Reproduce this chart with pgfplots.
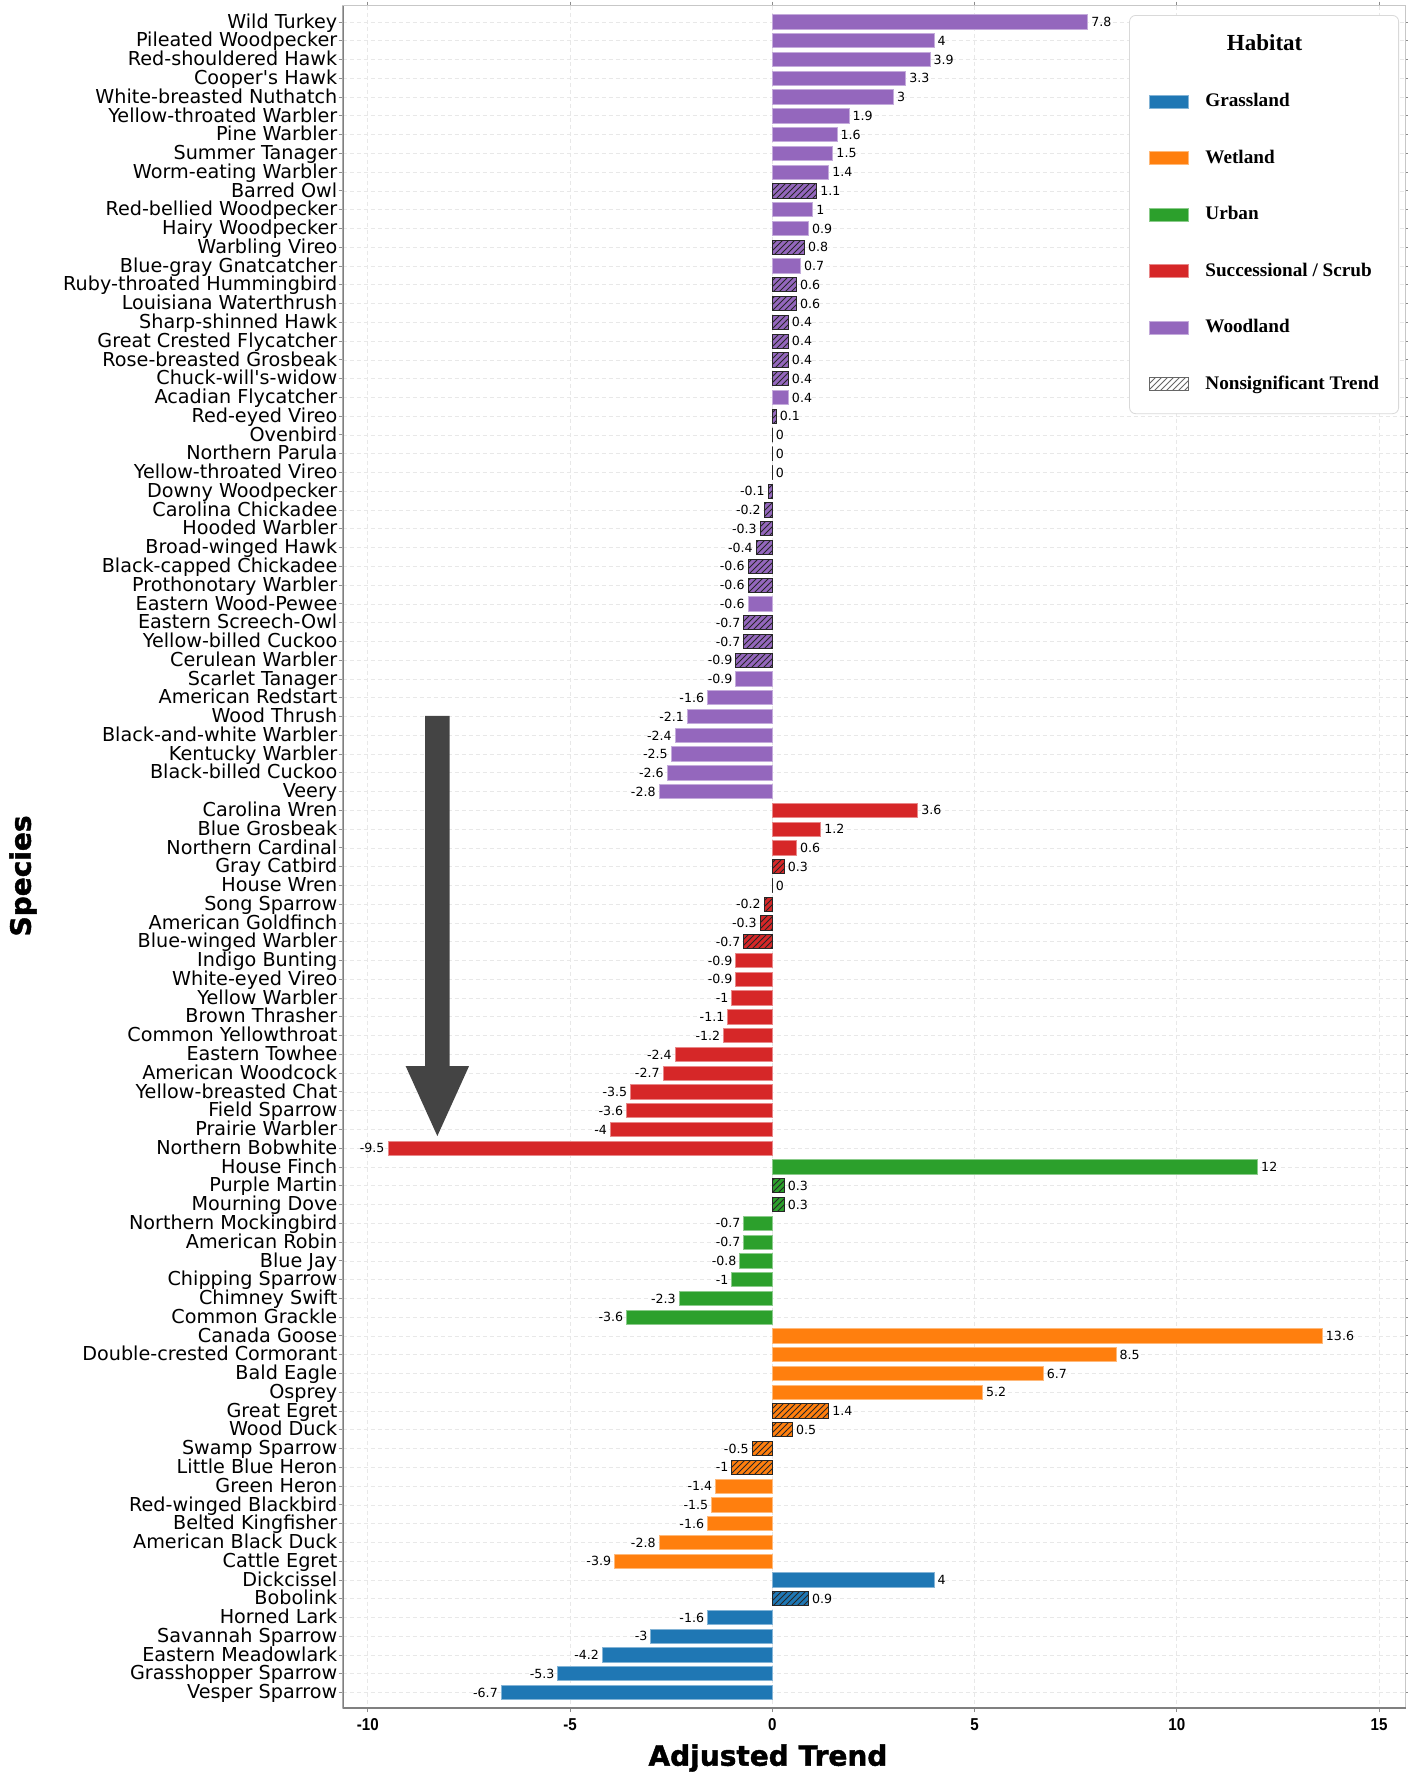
\documentclass[border=0pt]{standalone}
\usepackage{fontspec}
\usepackage{pgfplots}
\pgfplotsset{compat=1.18}
\usetikzlibrary{patterns}
\newfontfamily\dvs{DejaVu Sans}
\newfontfamily\heavy{DejaVu Sans}[BoldFeatures={FakeBold=1.5}]
\newfontfamily\lsans{Liberation Sans}[FakeStretch=0.88]
\newfontfamily\tnr{Liberation Serif}
\definecolor{tabblue}{HTML}{1F77B4}
\definecolor{taborange}{HTML}{FF7F0E}
\definecolor{tabgreen}{HTML}{2CA02C}
\definecolor{tabred}{HTML}{D62728}
\definecolor{tabpurple}{HTML}{9467BD}
\definecolor{arrowgray}{HTML}{444444}
\pgfplotsset{
  valnodes/.style={nodes near coords={\pgfplotspointmeta}, point meta=explicit symbolic,
    every node near coord/.append style={font=\dvs\fontsize{6.3}{7}\selectfont, inner sep=1.5pt, text=black}},
  pos/.style={every node near coord/.append style={anchor=west}},
  neg/.style={every node near coord/.append style={anchor=east}},
  sig/.style={xbar, bar width=0.76, bar shift=0pt, fill=#1, draw=#1!55!white, line width=0.5pt, forget plot, valnodes},
  ns/.style={xbar, bar width=0.76, bar shift=0pt, fill=#1, draw=black!85, line width=0.5pt,
    postaction={pattern=north east lines, pattern color=black!85}, forget plot, valnodes},
  mypatch/.style={legend image code/.code={\draw[sharp corners,line width=0.5pt,##1] (0pt,-3.25pt) rectangle (19.3pt,3.25pt);}},
}
\begin{document}
\begin{tikzpicture}
\begin{axis}[
  at={(0,0)}, anchor=south west,
  scale only axis, width=531.55pt, height=851.15pt,
  xbar, bar shift=0pt, bar width=0.76,
  nodes near coords align=horizontal,
  xmin=-10.62, xmax=15.66, ymin=-0.87, ymax=89.82, y dir=reverse,
  enlargelimits=false,
  xtick={-10,-5,0,5,10,15},
  ytick={0,...,89},
  yticklabels={Wild Turkey,Pileated Woodpecker,Red-shouldered Hawk,Cooper's Hawk,White-breasted Nuthatch,Yellow-throated Warbler,Pine Warbler,Summer Tanager,Worm-eating Warbler,Barred Owl,Red-bellied Woodpecker,Hairy Woodpecker,Warbling Vireo,Blue-gray Gnatcatcher,Ruby-throated Hummingbird,Louisiana Waterthrush,Sharp-shinned Hawk,Great Crested Flycatcher,Rose-breasted Grosbeak,Chuck-will's-widow,Acadian Flycatcher,Red-eyed Vireo,Ovenbird,Northern Parula,Yellow-throated Vireo,Downy Woodpecker,Carolina Chickadee,Hooded Warbler,Broad-winged Hawk,Black-capped Chickadee,Prothonotary Warbler,Eastern Wood-Pewee,Eastern Screech-Owl,Yellow-billed Cuckoo,Cerulean Warbler,Scarlet Tanager,American Redstart,Wood Thrush,Black-and-white Warbler,Kentucky Warbler,Black-billed Cuckoo,Veery,Carolina Wren,Blue Grosbeak,Northern Cardinal,Gray Catbird,House Wren,Song Sparrow,American Goldfinch,Blue-winged Warbler,Indigo Bunting,White-eyed Vireo,Yellow Warbler,Brown Thrasher,Common Yellowthroat,Eastern Towhee,American Woodcock,Yellow-breasted Chat,Field Sparrow,Prairie Warbler,Northern Bobwhite,House Finch,Purple Martin,Mourning Dove,Northern Mockingbird,American Robin,Blue Jay,Chipping Sparrow,Chimney Swift,Common Grackle,Canada Goose,Double-crested Cormorant,Bald Eagle,Osprey,Great Egret,Wood Duck,Swamp Sparrow,Little Blue Heron,Green Heron,Red-winged Blackbird,Belted Kingfisher,American Black Duck,Cattle Egret,Dickcissel,Bobolink,Horned Lark,Savannah Sparrow,Eastern Meadowlark,Grasshopper Sparrow,Vesper Sparrow},
  yticklabel style={font=\dvs\fontsize{9.6}{11}\selectfont, inner sep=0pt, anchor=mid east, xshift=-0.5pt, yshift=-0.9pt},
  xticklabel style={font=\lsans\bfseries\fontsize{8.6}{10}\selectfont, inner sep=0pt, yshift=-3pt},
  /pgf/number format/assume math mode=true,
  tick align=outside, major tick length=2pt,
  tick style={black!45, line width=0.5pt},
  xmajorgrids, ymajorgrids,
  grid style={dash pattern=on 2pt off 1.5pt, black!9, line width=0.4pt},
  axis line style={black!22, line width=0.6pt},
  xlabel={\heavy\bfseries Adjusted Trend},
  ylabel={\heavy\bfseries Species},
  xlabel style={font=\fontsize{14}{16}\selectfont, at={(axis description cs:0.400,-0.0294)}, anchor=center},
  ylabel style={font=\fontsize{14}{16}\selectfont, at={(axis description cs:-0.3007,0.4888)}, anchor=center},
  legend cell align=left,
  legend style={at={(0.9936,0.9945)}, anchor=north east, draw=black!15, rounded corners=3pt, fill=white,
    inner xsep=9.75pt, inner ysep=10.3pt, row sep=19.25pt, column sep=8.35pt,
    font=\tnr\bfseries\fontsize{9.6}{11}\selectfont,
    nodes={inner sep=0pt, text height=7pt, text depth=2pt}},
]
% Woodland
\addplot[sig=tabpurple, pos] coordinates {(7.8,0) [7.8] (4,1) [4] (3.9,2) [3.9] (3.3,3) [3.3] (3,4) [3] (1.9,5) [1.9] (1.6,6) [1.6] (1.5,7) [1.5] (1.4,8) [1.4] (1,10) [1] (0.9,11) [0.9] (0.7,13) [0.7] (0.4,20) [0.4]};
\addplot[sig=tabpurple, neg] coordinates {(-0.6,31) [-0.6] (-0.9,35) [-0.9] (-1.6,36) [-1.6] (-2.1,37) [-2.1] (-2.4,38) [-2.4] (-2.5,39) [-2.5] (-2.6,40) [-2.6] (-2.8,41) [-2.8]};
\addplot[ns=tabpurple, pos] coordinates {(1.1,9) [1.1] (0.8,12) [0.8] (0.6,14) [0.6] (0.6,15) [0.6] (0.4,16) [0.4] (0.4,17) [0.4] (0.4,18) [0.4] (0.4,19) [0.4] (0.1,21) [0.1] (0,22) [0] (0,23) [0] (0,24) [0]};
\addplot[ns=tabpurple, neg] coordinates {(-0.1,25) [-0.1] (-0.2,26) [-0.2] (-0.3,27) [-0.3] (-0.4,28) [-0.4] (-0.6,29) [-0.6] (-0.6,30) [-0.6] (-0.7,32) [-0.7] (-0.7,33) [-0.7] (-0.9,34) [-0.9]};
% Successional / Scrub
\addplot[sig=tabred, pos] coordinates {(3.6,42) [3.6] (1.2,43) [1.2] (0.6,44) [0.6]};
\addplot[sig=tabred, neg] coordinates {(-0.9,50) [-0.9] (-0.9,51) [-0.9] (-1,52) [-1] (-1.1,53) [-1.1] (-1.2,54) [-1.2] (-2.4,55) [-2.4] (-2.7,56) [-2.7] (-3.5,57) [-3.5] (-3.6,58) [-3.6] (-4,59) [-4] (-9.5,60) [-9.5]};
\addplot[ns=tabred, pos] coordinates {(0.3,45) [0.3] (0,46) [0]};
\addplot[ns=tabred, neg] coordinates {(-0.2,47) [-0.2] (-0.3,48) [-0.3] (-0.7,49) [-0.7]};
% Urban
\addplot[sig=tabgreen, pos] coordinates {(12,61) [12]};
\addplot[sig=tabgreen, neg] coordinates {(-0.7,64) [-0.7] (-0.7,65) [-0.7] (-0.8,66) [-0.8] (-1,67) [-1] (-2.3,68) [-2.3] (-3.6,69) [-3.6]};
\addplot[ns=tabgreen, pos] coordinates {(0.3,62) [0.3] (0.3,63) [0.3]};
% Wetland
\addplot[sig=taborange, pos] coordinates {(13.6,70) [13.6] (8.5,71) [8.5] (6.7,72) [6.7] (5.2,73) [5.2]};
\addplot[sig=taborange, neg] coordinates {(-1.4,78) [-1.4] (-1.5,79) [-1.5] (-1.6,80) [-1.6] (-2.8,81) [-2.8] (-3.9,82) [-3.9]};
\addplot[ns=taborange, pos] coordinates {(1.4,74) [1.4] (0.5,75) [0.5]};
\addplot[ns=taborange, neg] coordinates {(-0.5,76) [-0.5] (-1,77) [-1]};
% Grassland
\addplot[sig=tabblue, pos] coordinates {(4,83) [4]};
\addplot[sig=tabblue, neg] coordinates {(-1.6,85) [-1.6] (-3,86) [-3] (-4.2,87) [-4.2] (-5.3,88) [-5.3] (-6.7,89) [-6.7]};
\addplot[ns=tabblue, pos] coordinates {(0.9,84) [0.9]};
% arrow
\fill[arrowgray] ([xshift=-6.1pt]axis cs:-8.28,36.97) -- ([xshift=6.1pt]axis cs:-8.28,36.97)
  -- ([xshift=6.1pt]axis cs:-8.28,55.62) -- ([xshift=15.85pt]axis cs:-8.28,55.62)
  -- (axis cs:-8.28,59.35) -- ([xshift=-15.85pt]axis cs:-8.28,55.62)
  -- ([xshift=-6.1pt]axis cs:-8.28,55.62) -- cycle;
\draw[black!50, line width=0.9pt] (axis description cs:0,0) -- (axis description cs:0,1);
\draw[black!50, line width=0.9pt] (axis description cs:0,0) -- (axis description cs:1,0);
% legend
\addlegendimage{empty legend}
\addlegendentry{\fontsize{11.5}{12}\selectfont\hspace*{10.8pt}Habitat}
\addlegendimage{mypatch, fill=tabblue, draw=tabblue!55!white}
\addlegendentry{Grassland}
\addlegendimage{mypatch, fill=taborange, draw=taborange!55!white}
\addlegendentry{Wetland}
\addlegendimage{mypatch, fill=tabgreen, draw=tabgreen!55!white}
\addlegendentry{Urban}
\addlegendimage{mypatch, fill=tabred, draw=tabred!55!white}
\addlegendentry{Successional / Scrub}
\addlegendimage{mypatch, fill=tabpurple, draw=tabpurple!55!white}
\addlegendentry{Woodland}
\addlegendimage{mypatch, fill=white, draw=black!60, postaction={pattern=north east lines, pattern color=black!60}}
\addlegendentry{Nonsignificant Trend}
\end{axis}
\pgfresetboundingbox
\path (-171.35pt,-32.5pt) rectangle (532.65pt,854pt);
\end{tikzpicture}
\end{document}
